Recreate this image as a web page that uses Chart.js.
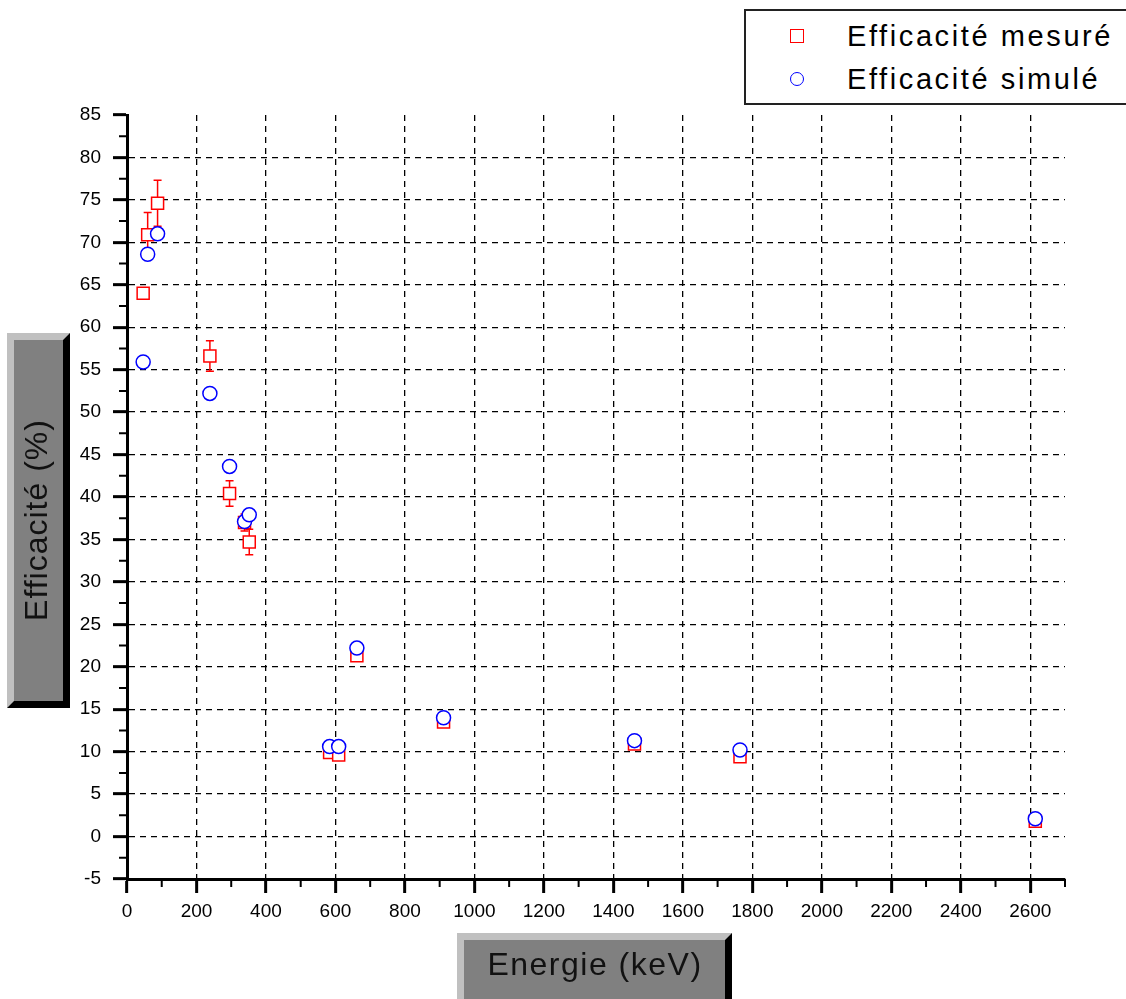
<!DOCTYPE html>
<html>
<head>
<meta charset="utf-8">
<script src="https://cdn.jsdelivr.net/npm/chart.js@4.4.1/dist/chart.umd.min.js"></script>
<style>
  body { margin: 0; background: #fff; }
  #wrap { position: relative; width: 1126px; height: 999px; overflow: hidden; }
  #legend {
    position: absolute; left: 744px; top: 9px; width: 420px; height: 92px;
    border: 2px solid #222; background: #fff;
    font-family: "Liberation Sans", Arial, sans-serif; font-size: 29px;
    letter-spacing: 2.6px; color: #000;
  }
  .row { position: absolute; left: 101px; height: 40px; line-height: 40px; white-space: nowrap; }
  .mk { position: absolute; width: 14px; height: 14px; box-sizing: border-box; }
  .sq { border: 1.5px solid #ff0000; }
  .ci { border: 1.5px solid #0000ff; border-radius: 50%; }
</style>
</head>
<body>
<div id="wrap">
  <canvas id="c" width="1126" height="999"></canvas>
  <div id="legend">
    <div class="mk sq" style="left:44px; top:18px;"></div>
    <div class="row" style="top:5px;">Efficacité mesuré</div>
    <div class="mk ci" style="left:44px; top:61px;"></div>
    <div class="row" style="top:48px;">Efficacité simulé</div>
  </div>
</div>
<script>
// Energies (keV) shared by both series
const energies    = [46.5, 59.5, 88.0, 238.6, 295.2, 338.3, 351.9, 583.2, 609.3, 661.7, 911.2, 1460.8, 1764.5, 2614.5];
// Measured efficiency (%) and its uncertainty
const measured    = [64.0, 70.9, 74.6, 56.6, 40.4, 37.0, 34.7, 9.9, 9.6, 21.3, 13.5, 10.9, 9.4, 1.8];
const measuredErr = [0.6, 2.6, 2.7, 1.8, 1.5, 1.0, 1.5, 0.3, 0.3, 0.3, 0.3, 0.2, 0.2, 0.1];
// Simulated efficiency (%)
const simulated   = [55.9, 68.6, 71.0, 52.2, 43.6, 37.1, 37.9, 10.6, 10.6, 22.2, 14.0, 11.3, 10.2, 2.1];

const xTitle = 'Energie (keV)';
const yTitle = 'Efficacité (%)';
const FONT = '"Liberation Sans", Arial, sans-serif';

// vertical error bars for the measured series
const errorBars = {
  id: 'errorBars',
  beforeDatasetsDraw(chart) {
    const {ctx, scales: {x, y}} = chart;
    ctx.save();
    ctx.strokeStyle = '#ff0000';
    ctx.lineWidth = 1.5;
    energies.forEach((e, i) => {
      const px = x.getPixelForValue(e);
      const top = y.getPixelForValue(measured[i] + measuredErr[i]);
      const bot = y.getPixelForValue(measured[i] - measuredErr[i]);
      ctx.beginPath();
      ctx.moveTo(px, top); ctx.lineTo(px, bot);
      ctx.moveTo(px - 4, top); ctx.lineTo(px + 4, top);
      ctx.moveTo(px - 4, bot); ctx.lineTo(px + 4, bot);
      ctx.stroke();
    });
    ctx.restore();
  }
};

// short minor ticks halfway between the major ones
const minorTicks = {
  id: 'minorTicks',
  afterDraw(chart) {
    const {ctx, scales: {x, y}, chartArea} = chart;
    ctx.save();
    ctx.strokeStyle = '#000';
    ctx.lineWidth = 2;
    ctx.beginPath();
    for (let v = 100; v <= 2700; v += 200) {
      const px = x.getPixelForValue(v);
      ctx.moveTo(px, chartArea.bottom); ctx.lineTo(px, chartArea.bottom + 8);
    }
    for (let v = -2.5; v <= 85; v += 5) {
      const py = y.getPixelForValue(v);
      ctx.moveTo(chartArea.left, py); ctx.lineTo(chartArea.left - 8, py);
    }
    ctx.stroke();
    ctx.restore();
  }
};

function bevelBox(ctx, x0, y0, x1, y1, b) {
  ctx.fillStyle = '#000';
  ctx.fillRect(x0, y0, x1 - x0, y1 - y0);
  ctx.fillStyle = '#c0c0c0';
  ctx.beginPath();
  ctx.moveTo(x0, y0); ctx.lineTo(x1, y0); ctx.lineTo(x1 - b, y0 + b);
  ctx.lineTo(x0 + b, y0 + b); ctx.lineTo(x0 + b, y1 - b); ctx.lineTo(x0, y1);
  ctx.closePath();
  ctx.fill();
  ctx.fillStyle = '#808080';
  ctx.fillRect(x0 + b, y0 + b, x1 - x0 - 2 * b, y1 - y0 - 2 * b);
}

// axis titles in grey raised boxes
const axisTitles = {
  id: 'axisTitles',
  afterDraw(chart) {
    const ctx = chart.ctx;
    ctx.save();
    bevelBox(ctx, 7, 333, 70, 708, 7);
    bevelBox(ctx, 457, 933, 732, 1006, 7);
    ctx.fillStyle = '#111';
    ctx.font = '32px ' + FONT;
    ctx.textAlign = 'center';
    ctx.textBaseline = 'middle';
    ctx.letterSpacing = '1.5px';
    ctx.fillText(xTitle, 595, 966);
    ctx.letterSpacing = '1px';
    ctx.translate(38, 520);
    ctx.rotate(-Math.PI / 2);
    ctx.fillText(yTitle, 0, 0);
    ctx.restore();
  }
};

const clear = 'rgba(0,0,0,0)';
const tickFont = { family: FONT, size: 19 };

new Chart(document.getElementById('c'), {
  type: 'scatter',
  data: {
    datasets: [{
      label: 'Efficacité mesuré',
      data: energies.map((e, i) => ({x: e, y: measured[i]})),
      pointStyle: 'rect',
      pointRadius: 8.5,
      borderColor: '#ff0000',
      backgroundColor: '#ffffff',
      borderWidth: 1.5,
      order: 1
    }, {
      label: 'Efficacité simulé',
      data: energies.map((e, i) => ({x: e, y: simulated[i]})),
      pointStyle: 'circle',
      pointRadius: 7,
      borderColor: '#0000ff',
      backgroundColor: '#ffffff',
      borderWidth: 1.5,
      order: 0
    }]
  },
  options: {
    responsive: false,
    animation: false,
    layout: { padding: { left: 0, right: 61, top: 115, bottom: 0 } },
    scales: {
      x: {
        type: 'linear', min: 0, max: 2700,
        ticks: { stepSize: 200, includeBounds: false, autoSkip: false, maxRotation: 0,
                 color: '#000', font: tickFont, padding: 7, callback: v => String(v) },
        grid: { color: c => (c.tick && c.tick.value === 0) ? clear : '#000',
                lineWidth: 1.3, tickLength: 14, tickWidth: 3, tickColor: '#000' },
        border: { color: '#000', width: 3, dash: [6, 5] },
        afterFit: s => { s.height = 120; }
      },
      y: {
        type: 'linear', min: -5, max: 85,
        ticks: { stepSize: 5, color: '#000', font: tickFont, padding: 12, callback: v => String(v) },
        grid: { color: c => (c.tick && (c.tick.value === -5 || c.tick.value === 85)) ? clear : '#000',
                lineWidth: 1.3, tickLength: 14, tickWidth: 3, tickColor: '#000' },
        border: { color: '#000', width: 3, dash: [6, 5] },
        afterFit: s => { s.width = 127; }
      }
    },
    plugins: {
      legend: { display: false },
      tooltip: { enabled: false }
    }
  },
  plugins: [errorBars, minorTicks, axisTitles]
});
</script>
</body>
</html>
